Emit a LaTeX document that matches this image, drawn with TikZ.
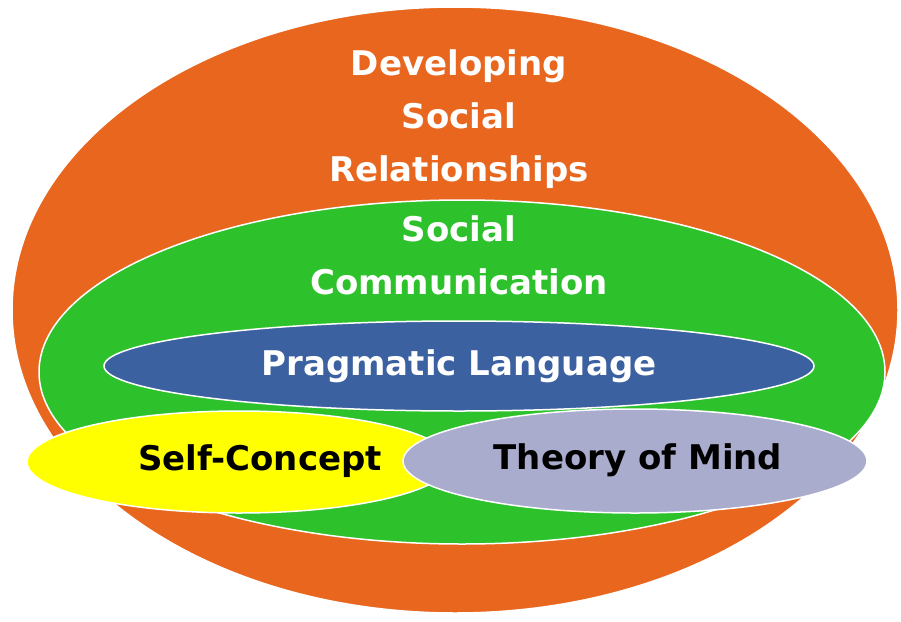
\documentclass[tikz,border=0pt]{standalone}
\usepackage{fontspec}
\setmainfont{DejaVu Sans}
\usepackage{tikz}
\usepackage{xcolor}
\usetikzlibrary{shapes.geometric,positioning}
\definecolor{relorange}{HTML}{E8661E}
\definecolor{commgreen}{HTML}{2DC22B}
\definecolor{pragblue}{HTML}{3B61A0}
\definecolor{selfyellow}{HTML}{FFFF00}
\definecolor{mindgray}{HTML}{A9ACCD}

\begin{document}
\begin{tikzpicture}[x=1pt, y=-1pt,
    ring/.style={ellipse, draw=white, line width=1.5pt, inner sep=0pt},
    lighttext/.style={text=white, align=center, font=\bfseries\fontsize{34}{53}\selectfont},
    darktext/.style={text=black, align=center, font=\bfseries\fontsize{34}{53}\selectfont}]
      \useasboundingbox[fill=white] (0,0) rectangle (901,621);
      \node[ring, fill=relorange, minimum width=886pt, minimum height=606pt] (rel) at (455,310) {};
      \node[ring, fill=commgreen, minimum width=846pt, minimum height=344pt] (comm) at (462,372) {};
      \node[ring, fill=pragblue, minimum width=710pt, minimum height=90pt, lighttext] (prag) at (459,366) {Pragmatic Language};
      \node[ring, fill=selfyellow, minimum width=424pt, minimum height=102pt] (self) at (239,462) {};
      \node[ring, fill=mindgray, minimum width=464pt, minimum height=104pt] (mind) at (635,461) {};

      \node[lighttext] (reltext) at (459,119) {Developing\\Social\\Relationships};
      \node[lighttext, below=20pt of reltext.south] (commtext) {Social\\Communication};
      \node[darktext] (selftext) at (260,461) {Self-Concept};
      \node[darktext] (mindtext) at (638,460) {Theory of Mind};
    \end{tikzpicture}
\end{document}
